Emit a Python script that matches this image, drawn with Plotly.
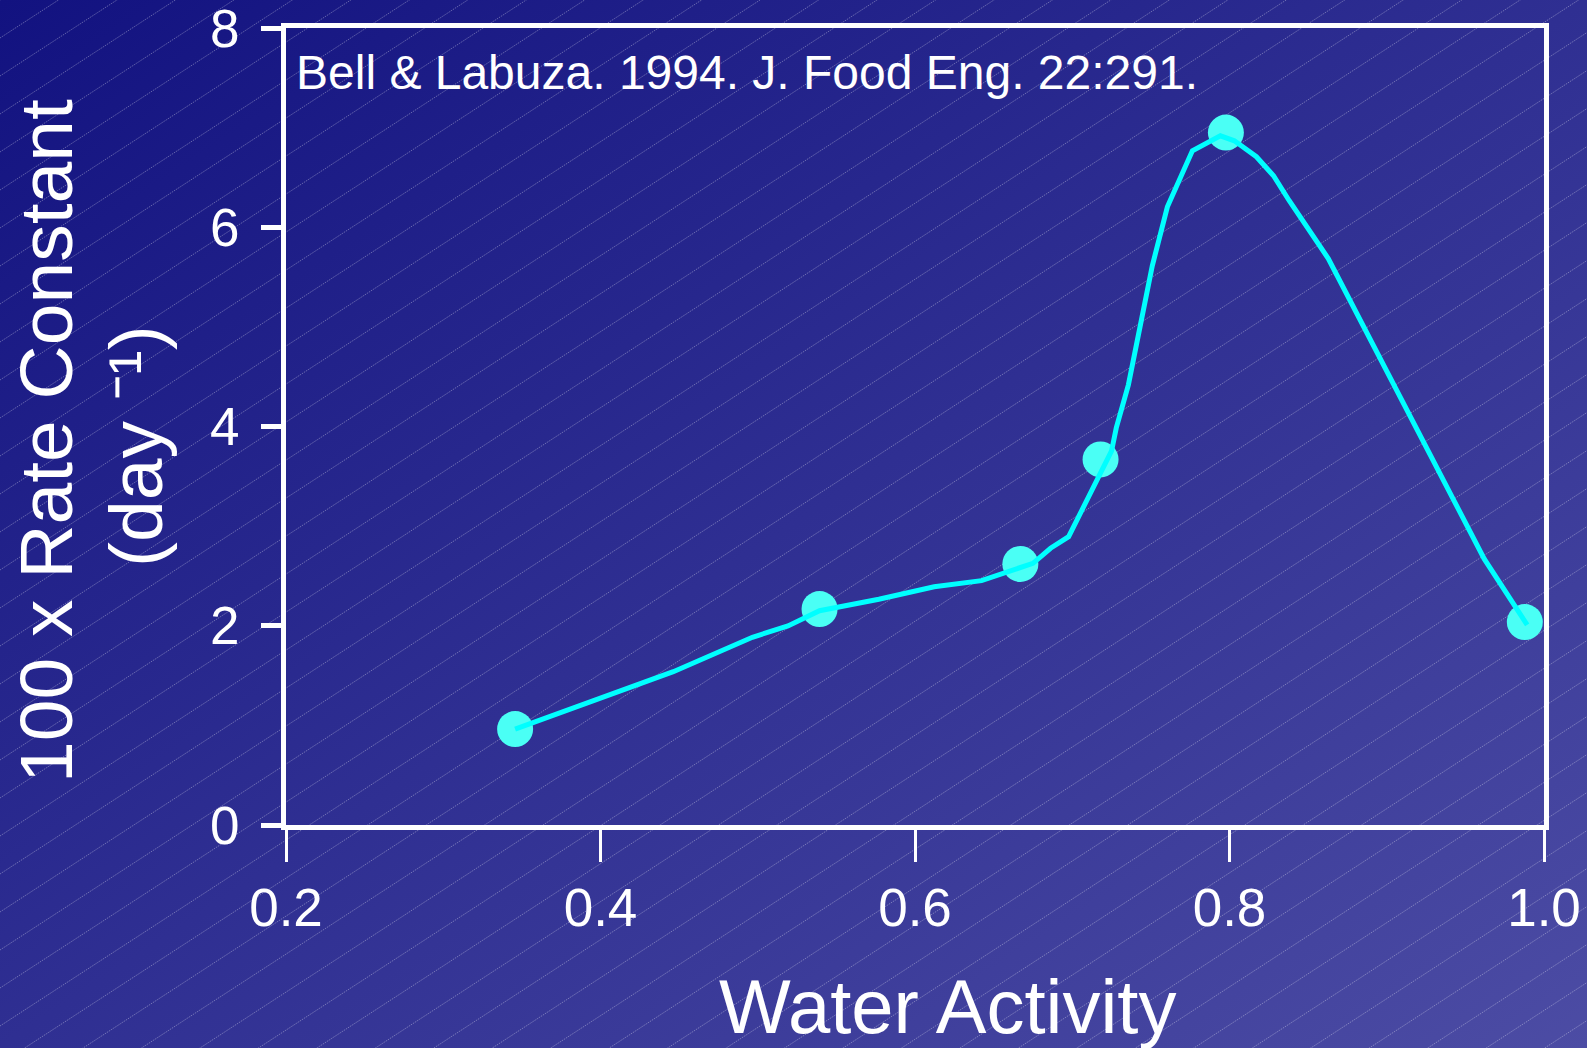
import base64
import plotly.graph_objects as go

# ---- data ----
aw_points = [0.3457, 0.5393, 0.667, 0.718, 0.7977, 0.9878]
k_points = [0.963, 2.168, 2.62, 3.67, 6.95, 2.037]

curve_aw = [0.3457, 0.396, 0.4463, 0.4966, 0.5192, 0.5393, 0.577, 0.6122, 0.6423,
            0.675, 0.6862, 0.6977, 0.725, 0.728, 0.7357, 0.7509, 0.7605, 0.7764,
            0.7942, 0.8031, 0.8171, 0.828, 0.838, 0.8629, 0.962, 0.9893]
curve_k = [0.963, 1.254, 1.539, 1.884, 1.998, 2.151, 2.266, 2.392, 2.453,
           2.627, 2.778, 2.894, 3.755, 3.986, 4.418, 5.613, 6.205, 6.767,
           6.918, 6.868, 6.708, 6.517, 6.266, 5.684, 2.671, 2.008]

x_tickvals = [0.2, 0.4, 0.6, 0.8, 1.0]
x_ticktext = ["0.2", "0.4", "0.6", "0.8", "1.0"]
y_tickvals = [0, 2, 4, 6, 8]
y_ticktext = ["0", "2", "4", "6", "8"]

x_title = "Water Activity"
y_title_1 = "100 x Rate Constant"
y_title_2 = "(day \u207b\u00b9)"
source_note = "Bell & Labuza. 1994. J. Food Eng. 22:291."

# ---- layout geometry ----
W, H = 1587, 1048
ML, MR, MT, MB = 286, 43, 28, 223
PW, PH = W - ML - MR, H - MT - MB

def px_x(px):
    return (px - ML) / PW

def px_y(py):
    return (H - MB - py) / PH

FONT = "Liberation Sans, Arial, Helvetica, sans-serif"

# ---- background: diagonal gradient with faint diagonal hatch lines ----
lines = []
slope = 0.65
c = 0.0
while c < H + slope * W + 40:
    lines.append(f'<line x1="0" y1="{c:.1f}" x2="{W}" y2="{c - slope * W:.1f}"/>')
    c += 38
svg = (
    f'<svg xmlns="http://www.w3.org/2000/svg" width="{W}" height="{H}" viewBox="0 0 {W} {H}" preserveAspectRatio="none">'
    '<defs><linearGradient id="g" x1="0" y1="0" x2="1" y2="1">'
    '<stop offset="0" stop-color="rgb(18,18,128)"/>'
    '<stop offset="1" stop-color="rgb(76,76,164)"/>'
    '</linearGradient></defs>'
    f'<rect x="0" y="0" width="{W}" height="{H}" fill="url(#g)"/>'
    '<g stroke="rgba(255,255,255,0.32)" stroke-width="1" stroke-dasharray="1.5,1">'
    + "".join(lines) +
    '</g></svg>'
)
bg_uri = "data:image/svg+xml;base64," + base64.b64encode(svg.encode()).decode()

fig = go.Figure()

fig.add_trace(go.Scatter(
    x=aw_points, y=k_points, mode="markers",
    marker=dict(size=36, color="rgb(74,255,245)", line=dict(width=0)),
    cliponaxis=False, showlegend=False, hoverinfo="skip",
))
fig.add_trace(go.Scatter(
    x=curve_aw, y=curve_k, mode="lines",
    line=dict(color="rgb(0,255,255)", width=5),
    cliponaxis=False, showlegend=False, hoverinfo="skip",
))

axis_common = dict(
    showline=True, linecolor="white", linewidth=5, mirror=True,
    showgrid=False, zeroline=False, automargin=False,
    ticks="outside", tickcolor="white", ticklabeloverflow="allow",
    tickfont=dict(family=FONT, size=53, color="white"),
)

fig.update_xaxes(range=[0.2, 1.0], tickvals=x_tickvals, ticktext=x_ticktext,
                 ticklen=32, tickwidth=3, **axis_common)
fig.update_yaxes(range=[0, 8], tickvals=y_tickvals, ticktext=y_ticktext,
                 ticklen=20, tickwidth=5, ticklabelstandoff=11, **axis_common)

annotations = [
    dict(text=x_title, x=px_x(947), y=px_y(1006), xref="paper", yref="paper",
         xanchor="center", yanchor="middle", showarrow=False,
         font=dict(family=FONT, size=76, color="white")),
    dict(text=y_title_1, x=px_x(46), y=px_y(441), xref="paper", yref="paper",
         xanchor="center", yanchor="middle", showarrow=False, textangle=-90,
         font=dict(family=FONT, size=75, color="white")),
    dict(text=y_title_2, x=px_x(136), y=px_y(446), xref="paper", yref="paper",
         xanchor="center", yanchor="middle", showarrow=False, textangle=-90,
         font=dict(family=FONT, size=75, color="white")),
    dict(text=source_note, x=px_x(294), y=px_y(44), xref="paper", yref="paper",
         xanchor="left", yanchor="top", showarrow=False,
         font=dict(family=FONT, size=48, color="white")),
]

fig.update_layout(
    width=W, height=H,
    margin=dict(l=ML, r=MR, t=MT, b=MB, pad=0, autoexpand=False),
    paper_bgcolor="rgb(40,40,140)",
    plot_bgcolor="rgba(0,0,0,0)",
    font=dict(family=FONT, color="white"),
    annotations=annotations,
    images=[dict(source=bg_uri, xref="paper", yref="paper",
                 x=-ML / PW, y=1 + MT / PH, sizex=W / PW, sizey=H / PH,
                 xanchor="left", yanchor="top", sizing="stretch", layer="below")],
)

fig.write_html(
    "out.html",
    config={"displayModeBar": False, "staticPlot": True},
    post_script="document.body.style.margin='0';document.body.style.padding='0';"
                "document.documentElement.style.overflow='hidden';",
)
